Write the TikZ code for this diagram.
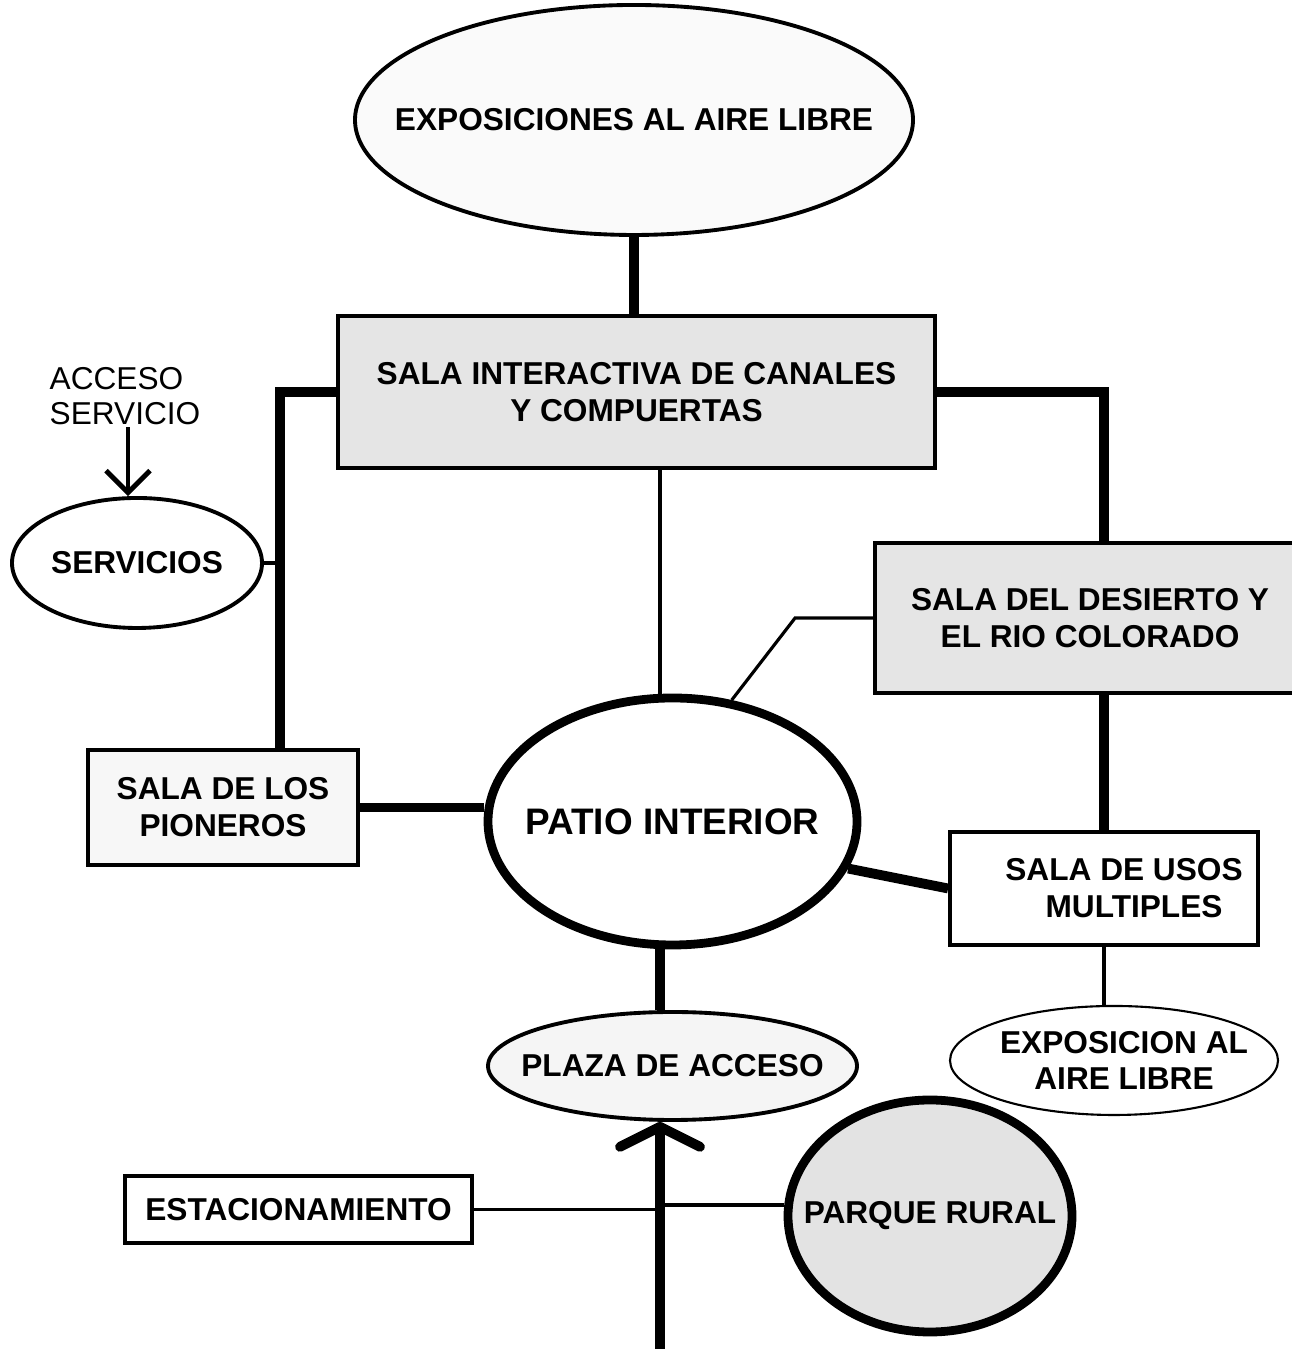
\documentclass[tikz,border=0pt]{standalone}
\usepackage{fontspec}
\setmainfont{Liberation Sans}
\usepackage{tikz}
\usetikzlibrary{shapes.geometric,arrows.meta,positioning}

\begin{document}
\begin{tikzpicture}[
    font=\fontsize{9}{10.5}\selectfont\bfseries,
    sala/.style={draw, line width=1.1pt, align=center, inner sep=2pt},
    zona/.style={ellipse, draw, line width=1.1pt, inner sep=0pt},
    every label/.style={align=center, inner sep=0pt},
    heavy/.style={line width=2.8pt},
    light/.style={line width=0.9pt},
    barb/.style={-{Straight Barb[length=2mm, width=8mm, round]}, line width=2.8pt},
    smallbarb/.style={-{Straight Barb[length=2.2mm, width=4.4mm]}, line width=1.4pt}
  ]
  \useasboundingbox (0,0) rectangle (12.91,13.49);
  % Exposiciones y sala interactiva
  \node[zona, fill=gray!4, minimum width=5.58cm, minimum height=2.30cm,
        label=center:EXPOSICIONES AL AIRE LIBRE] (expo) at (6.34,12.29) {};
  \node[sala, fill=gray!20, minimum width=5.97cm, minimum height=1.52cm] (canales) at (6.365,9.57)
       {SALA INTERACTIVA DE CANALES\\Y COMPUERTAS};
  \draw[heavy] (expo.south) -- (expo.south |- canales.north);
  % Servicios
  \node[zona, fill=white, minimum width=2.50cm, minimum height=1.30cm,
        label=center:SERVICIOS] (servicios) at (1.37,7.86) {};
  \node[align=left, font=\fontsize{9}{10}\selectfont\mdseries] (acceso) at (1.25,9.53) {ACCESO\\SERVICIO};
  % Salas laterales
  \node[sala, fill=gray!20, minimum width=4.30cm, minimum height=1.50cm] (desierto) at (10.90,7.31)
       {SALA DEL DESIERTO Y\\EL RIO COLORADO};
  \node[sala, fill=white, minimum width=3.08cm, minimum height=1.13cm] (usos) at (11.04,4.605)
       {\hspace*{4mm}SALA DE USOS\\\hspace*{6mm}MULTIPLES};
  \node[zona, line width=0.6pt, fill=white, minimum width=3.28cm, minimum height=1.09cm,
        below=0.58cm of usos, xshift=1mm,
        label={[xshift=1mm]center:EXPOSICION AL\\AIRE LIBRE}] (libre) {};
  \node[sala, fill=gray!6, minimum width=2.70cm, minimum height=1.15cm] (pioneros) at (2.23,5.415)
       {SALA DE LOS\\PIONEROS};
  % Patio y acceso
  \node[zona, line width=2.5pt, fill=white, minimum width=3.69cm, minimum height=2.47cm,
        label={[font=\fontsize{10.5}{12}\selectfont\bfseries]center:PATIO INTERIOR}] (patio) at (6.725,5.275) {};
  \node[zona, fill=gray!8, minimum width=3.69cm, minimum height=1.08cm,
        label=center:PLAZA DE ACCESO] (plaza) at (6.725,2.83) {};
  \node[sala, fill=white, minimum width=3.47cm, minimum height=0.67cm] (estac) at (2.985,1.395) {ESTACIONAMIENTO};
  \node[zona, line width=2.5pt, fill=gray!22, minimum width=2.84cm, minimum height=2.32cm,
        label=center:PARQUE RURAL] (parque) at (9.30,1.33) {};
  \coordinate (ax) at (6.60,0);
  \coordinate (pk) at ([xshift=5.7mm]pioneros.north);
  % Conexiones
  \draw[smallbarb] ([yshift=1mm]acceso.south -| 1.28,0) -- (servicios.north -| 1.28,0);
  \draw[heavy] (canales.west) -| (pk);
  \draw[light] (servicios.east) -- (servicios.east -| pk);
  \draw[heavy] (canales.east) -| (usos.north |- desierto.north);
  \draw[light] (canales.south -| ax) -- (patio.north -| ax);
  \draw[light] (desierto.west) -- ++(-0.78,0) -- (patio.64);
  \draw[heavy] (usos.north |- desierto.south) -- (usos.north);
  \draw[light] (usos.south) -- (usos.south |- libre.north);
  \draw[heavy] (pioneros.east) -- (patio.west |- pioneros.east);
  \draw[heavy] (patio.-15) -- (usos.west);
  \draw[heavy] (patio.south -| ax) -- (plaza.north -| ax);
  \draw[barb] (ax) -- (plaza.south -| ax);
  \draw[light] (estac.east) -- (estac.east -| ax);
  \draw[light] ([yshift=1.1mm]parque.west -| ax) -- ([yshift=1.1mm]parque.west);
\end{tikzpicture}
\end{document}
